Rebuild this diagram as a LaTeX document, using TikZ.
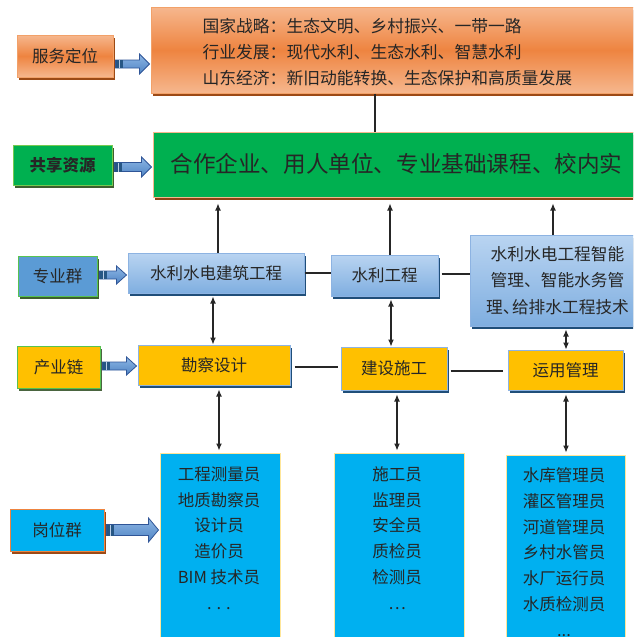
\documentclass[tikz,border=0pt]{standalone}
\usepackage{fontspec}
\setmainfont{Noto Sans CJK SC}
\usetikzlibrary{arrows.meta,shadows,calc}
\definecolor{orL}{HTML}{F6B78E}
\definecolor{orM}{HTML}{EE8440}
\definecolor{orB}{HTML}{F2A46E}
\definecolor{orSh}{HTML}{9C4A16}
\definecolor{grF}{HTML}{00B050}
\definecolor{grB}{HTML}{92D050}
\definecolor{grSh}{HTML}{3D5F2F}
\definecolor{bluF}{HTML}{5B9BD5}
\definecolor{lbT}{HTML}{B9D4F1}
\definecolor{lbB}{HTML}{7FAEE0}
\definecolor{lbD}{HTML}{8DB3E2}
\definecolor{dbSh}{HTML}{1F4E79}
\definecolor{yeF}{HTML}{FFC000}
\definecolor{cyF}{HTML}{00B0F0}
\definecolor{yeB}{HTML}{FFE699}
\definecolor{lnC}{HTML}{262626}
\definecolor{txC}{HTML}{262626}
\definecolor{arT}{HTML}{8DB6E4}
\definecolor{arB}{HTML}{4F84C4}
\definecolor{arO}{HTML}{2F5597}
\newcommand\bArrow[5]{%
  \draw[barrow] let \p1=(#1.east), \p2=(#2.west) in
    (\x1+2pt,\y1-#3+#5) -- (\x2-11pt,\y1-#3+#5) -- (\x2-11pt,\y1-#4+#5) -- (\x2-1pt,\y1+#5)
    -- (\x2-11pt,\y1+#4+#5) -- (\x2-11pt,\y1+#3+#5) -- (\x1+2pt,\y1+#3+#5) -- cycle;
  \fill[btail] let \p1=(#1.east) in (\x1+2.5pt,\y1-#3+#5) rectangle (\x1+9pt,\y1+#3+#5);
  \draw[white!60!arB, line width=.6pt] let \p1=(#1.east) in (\x1+6pt,\y1-#3+#5) -- (\x1+6pt,\y1+#3+#5);
}
\begin{document}
\begin{tikzpicture}[x=1pt,y=-1pt,
  box/.style={rectangle, draw, line width=1pt, inner sep=0pt, text=txC,
    font=\fontsize{16.5}{20}\selectfont},
  shd/.style={general shadow={fill=#1, shadow xshift=2pt, shadow yshift=-3pt}},
  orbox/.style={box, draw=orB!90!orM, shd=orSh, top color=orL, bottom color=orL, middle color=orM},
  grbig/.style={box, draw=orL, fill=grF, shd=orSh!90!black},
  grlab/.style={box, draw=grB!80!grF, fill=grF, shd=grSh},
  bllab/.style={box, draw=grB!60!grF, fill=bluF, shd=grSh},
  lbbox/.style={box, draw=lbD, shd=dbSh, top color=lbT, bottom color=lbB},
  yebox/.style={box, draw=lbD, fill=yeF, shd=dbSh},
  yelab/.style={box, draw=grB!60!grF, fill=yeF, shd=grSh!80!gray},
  cylab/.style={box, draw=orM, fill=cyF, shd=orSh},
  cybox/.style={box, draw=yeB, fill=cyF},
  listtxt/.style={text=txC, align=center, font=\fontsize{16.5}{25.8}\selectfont},
  barrow/.style={draw=arO, line width=.8pt, top color=arT, bottom color=arB},
  btail/.style={fill=dbSh!85!arB},
  lnk/.style={draw=lnC, line width=1.1pt},
  arr/.style={lnk, -{Latex[length=7pt,width=6pt]}},
  darr/.style={lnk, {Latex[length=7pt,width=6pt]}-{Latex[length=7pt,width=6pt]}}
]
\useasboundingbox (0,0) rectangle (633,637);
\clip (0,0) rectangle (633,637);

% row 1
\node[orbox, minimum width=96pt, minimum height=42pt] (sfdw) at (65,56) {服务定位};
\node[orbox, minimum width=494pt, minimum height=86pt] (top) at (398,50) {};
\node[anchor=west, text=txC, align=left, font=\fontsize{16.8}{25.7}\selectfont] (toptxt) at (199,52)
  {国家战略：生态文明、乡村振兴、一带一路\\行业发展：现代水利、生态水利、智慧水利\\山东经济：新旧动能转换、生态保护和高质量发展};

% row 2
\node[grlab, minimum width=99pt, minimum height=40pt, font=\fontsize{16.5}{20}\selectfont\bfseries] (gxzy) at (62.5,165) {共享资源};
\node[grbig, minimum width=492pt, minimum height=65pt] (green) at (399,164.5) {};
\node[anchor=west, text=txC, font=\fontsize{22.6}{26}\selectfont] (greentxt) at (167,164)
  {合作企业、用人单位、专业基础课程、校内实};

% row 3
\node[bllab, minimum width=79pt, minimum height=40pt] (zyq) at (57.5,276) {专业群};
\node[lbbox, minimum width=176pt, minimum height=40pt] (b1) at (216,273) {水利水电建筑工程};
\node[lbbox, minimum width=107pt, minimum height=41pt] (b2) at (384.5,275.5) {水利工程};
\node[lbbox, minimum width=175pt, minimum height=91pt, align=center,
  font=\fontsize{16.7}{26.3}\selectfont] (b3) at (557.5,280.5)
  {水利水电工程智能\\管理、智能水务管\\理、\kern-.45em\relax 给排水工程技术};

% row 4
\node[yelab, minimum width=83pt, minimum height=42pt] (cyl) at (58.5,367) {产业链};
\node[yebox, minimum width=152pt, minimum height=40pt] (y1) at (214,365) {勘察设计};
\node[yebox, minimum width=106pt, minimum height=43pt] (y2) at (394,368.5) {建设施工};
\node[yebox, minimum width=115pt, minimum height=40pt] (y3) at (565.5,370) {运用管理};

% row 5
\node[cylab, minimum width=94pt, minimum height=42pt] (gwq) at (57,530) {岗位群};
\node[cybox, minimum width=120pt, minimum height=207pt] (lA) at (220,556.5) {};
\node[cybox, minimum width=130pt, minimum height=207pt] (lB) at (399,556.5) {};
\node[cybox, minimum width=119pt, minimum height=205pt] (lC) at (565.5,557.5) {};
\node[listtxt] (tA) at (219,538) {工程测量员\\地质勘察员\\设计员\\造价员\\BIM 技术员\\. . .};
\node[listtxt] (tB) at (397,538) {施工员\\监理员\\安全员\\质检员\\检测员\\…};
\node[listtxt] (tC) at (564,552) {水库管理员\\灌区管理员\\河道管理员\\乡村水管员\\水厂运行员\\水质检测员\\...};

% block arrows
\bArrow{sfdw}{top}{4pt}{10pt}{-8pt}
\bArrow{gxzy}{green}{4.5pt}{10pt}{-2pt}
\bArrow{zyq}{b1}{4pt}{9pt}{1pt}
\bArrow{cyl}{y1}{4pt}{9pt}{1pt}
\bArrow{gwq}{lA}{5.5pt}{12pt}{0pt}

% connectors
\coordinate (vx) at (375,0);
\draw[lnk] (top.south -| vx) -- (green.north -| vx);

\coordinate (u1) at (218,0);
\coordinate (u2) at (390,0);
\coordinate (u3) at (553,0);
\draw[arr, shorten >=6pt] (b1.north -| u1) -- (green.south -| u1);
\draw[arr, shorten >=6pt] (b2.north -| u2) -- (green.south -| u2);
\draw[arr, shorten >=6pt] (b3.north -| u3) -- (green.south -| u3);

\coordinate (d1) at (213,0);
\coordinate (d2) at (391,0);
\coordinate (d3) at (566,0);
\draw[darr, shorten <=3pt] (b1.south -| d1) -- (y1.north -| d1);
\draw[darr, shorten <=3pt] (b2.south -| d2) -- (y2.north -| d2);
\draw[darr, shorten <=3pt] (b3.south -| d3) -- (y3.north -| d3);

\coordinate (e1) at (219,0);
\coordinate (e2) at (397,0);
\coordinate (e3) at (566,0);
\draw[darr, shorten <=4pt, shorten >=2pt] (y1.south -| e1) -- (lA.north -| e1);
\draw[darr, shorten <=4pt, shorten >=2pt] (y2.south -| e2) -- (lB.north -| e2);
\draw[darr, shorten <=4pt, shorten >=2pt] (y3.south -| e3) -- (lC.north -| e3);

\coordinate (h1) at (0,273);
\coordinate (h2) at (0,274);
\coordinate (h3) at (0,367);
\coordinate (h4) at (0,371);
\draw[lnk] (b1.east |- h1) -- (b2.west |- h1);
\draw[lnk, shorten <=3pt] (b2.east |- h2) -- (b3.west |- h2);
\draw[lnk, shorten <=4pt, shorten >=3pt] (y1.east |- h3) -- (y2.west |- h3);
\draw[lnk, shorten <=3pt, shorten >=5pt] (y2.east |- h4) -- (y3.west |- h4);
\end{tikzpicture}
\end{document}
